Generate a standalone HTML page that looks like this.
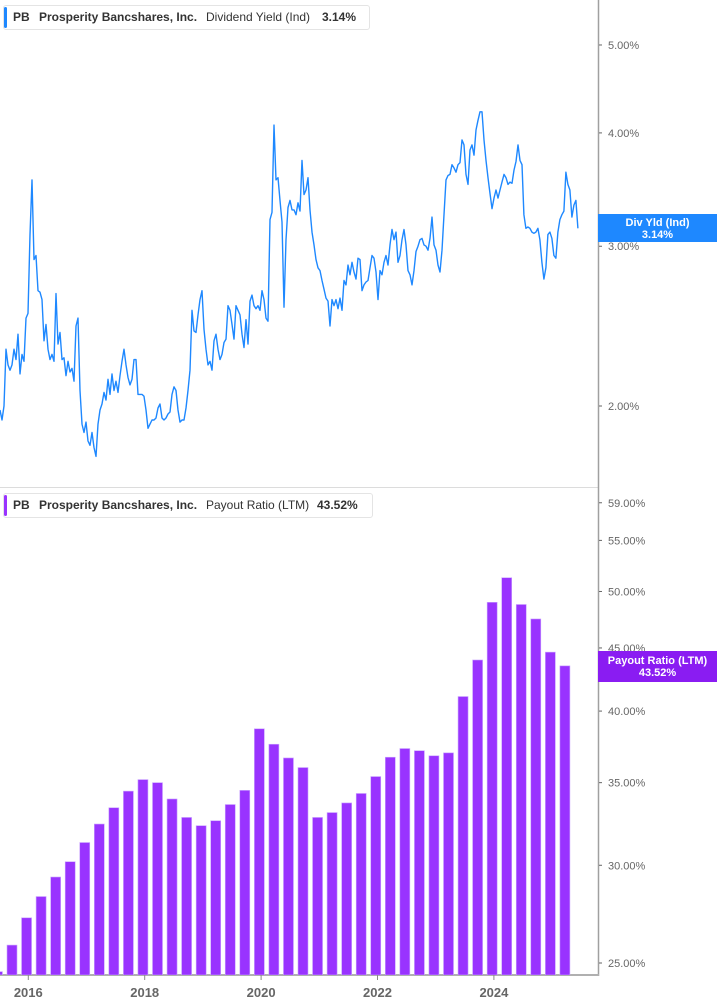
<!DOCTYPE html>
<html><head><meta charset="utf-8">
<style>
html,body{margin:0;padding:0;background:#fff;}
body{width:717px;height:1005px;overflow:hidden;position:relative;font-family:"Liberation Sans",Arial,sans-serif;}
svg{position:absolute;left:0;top:0;}
.legend{position:absolute;left:3px;height:25px;background:#fff;border:1px solid #e4e4e4;border-radius:3px;box-sizing:border-box;font-size:12px;color:#333;line-height:23px;white-space:nowrap;}
.legend .bar{position:absolute;left:0;top:1px;bottom:1px;width:3px;border-radius:2px;}
.legend span{position:absolute;top:0;}
.b{font-weight:bold;}
.badge{position:absolute;left:598px;width:119px;color:#fff;font-weight:bold;font-size:11px;text-align:center;line-height:12px;padding-top:3px;box-sizing:border-box;}
</style></head>
<body>
<svg id="chart" width="717" height="1005"></svg>

<div class="legend" style="top:5px;width:367px;">
  <div class="bar" style="background:#1e88ff"></div>
  <span class="b" style="left:9px">PB</span>
  <span class="b" style="left:35px">Prosperity Bancshares, Inc.</span>
  <span style="left:202px">Dividend Yield (Ind)</span>
  <span class="b" style="left:318px">3.14%</span>
</div>
<div class="legend" style="top:493px;width:370px;">
  <div class="bar" style="background:#9933ff"></div>
  <span class="b" style="left:9px">PB</span>
  <span class="b" style="left:35px">Prosperity Bancshares, Inc.</span>
  <span style="left:202px">Payout Ratio (LTM)</span>
  <span class="b" style="left:313px">43.52%</span>
</div>
<div class="badge" style="top:214px;height:28px;background:#1e88ff;">Div Yld (Ind)<br>3.14%</div>
<div class="badge" style="top:651px;height:31px;background:#8a1cf2;padding-top:4px;">Payout Ratio (LTM)<br>43.52%</div>

<script>
const yieldStartYear = 2015.514;
const yieldStepYears = 0.03436;
const yieldValues = [1.98,1.93,2.00,2.31,2.22,2.19,2.22,2.31,2.25,2.40,2.17,2.28,2.24,2.50,2.53,3.09,3.55,2.90,2.93,2.68,2.67,2.62,2.36,2.46,2.31,2.25,2.28,2.24,2.66,2.34,2.41,2.25,2.26,2.16,2.24,2.18,2.20,2.13,2.45,2.50,2.08,1.91,1.87,1.92,1.83,1.81,1.87,1.80,1.76,1.91,1.98,2.01,2.07,2.03,2.14,2.06,2.17,2.08,2.13,2.07,2.16,2.24,2.31,2.22,2.15,2.11,2.14,2.25,2.25,2.06,2.06,2.06,2.05,1.98,1.89,1.91,1.93,1.93,1.94,1.99,2.01,1.94,1.93,1.94,1.96,1.97,2.06,2.10,2.08,1.98,1.92,1.93,1.93,1.99,2.08,2.19,2.55,2.42,2.41,2.52,2.62,2.68,2.43,2.31,2.22,2.24,2.19,2.36,2.40,2.31,2.25,2.28,2.35,2.37,2.58,2.55,2.46,2.37,2.58,2.55,2.52,2.40,2.32,2.49,2.34,2.61,2.65,2.58,2.56,2.58,2.55,2.68,2.62,2.50,2.48,3.21,3.27,4.08,3.55,3.57,3.37,3.19,2.57,3.05,3.31,3.37,3.29,3.29,3.25,3.35,3.28,3.73,3.42,3.46,3.57,3.29,3.11,3.01,2.90,2.84,2.82,2.75,2.69,2.63,2.61,2.45,2.62,2.58,2.62,2.56,2.63,2.55,2.75,2.72,2.86,2.79,2.88,2.81,2.76,2.91,2.90,2.68,2.72,2.74,2.75,2.84,2.93,2.91,2.81,2.62,2.82,2.79,2.88,2.93,2.86,3.01,3.13,3.05,3.11,2.88,2.93,3.05,3.13,3.01,2.82,2.79,2.72,2.82,2.96,3.00,3.05,3.06,3.01,3.00,2.97,3.06,3.23,3.01,2.97,2.86,2.81,2.97,3.25,3.55,3.59,3.60,3.69,3.66,3.62,3.69,3.71,3.93,3.88,3.60,3.51,3.83,3.88,3.78,4.03,4.13,4.22,4.22,3.93,3.73,3.57,3.43,3.30,3.39,3.46,3.39,3.46,3.53,3.60,3.57,3.51,3.53,3.52,3.64,3.72,3.88,3.73,3.69,3.25,3.14,3.15,3.14,3.11,3.10,3.11,3.14,3.05,2.88,2.76,2.84,3.09,3.11,3.06,2.93,2.91,3.11,3.21,3.25,3.28,3.62,3.51,3.46,3.23,3.33,3.37,3.14];
const payoutStartYear = 2015.47;
const payoutStepYears = 0.25;
const payoutValues = [24.6,25.85,27.2,28.3,29.35,30.2,31.3,32.4,33.4,34.45,35.2,35.0,33.95,32.8,32.3,32.6,33.6,34.5,38.7,37.6,36.65,36.0,32.8,33.1,33.7,34.3,35.4,36.7,37.3,37.15,36.8,37.0,41.1,44.0,49.0,51.3,48.8,47.5,44.65,43.52];
const yieldTicks = [2,3,4,5];
const yieldTickLabels = ["2.00%","3.00%","4.00%","5.00%"];
const payoutTicks = [25,30,35,40,45,50,55,59];
const payoutTickLabels = ["25.00%","30.00%","35.00%","40.00%","45.00%","50.00%","55.00%","59.00%"];
const yearTicks = [2016,2018,2020,2022,2024];
const yearTickLabels = ["2016","2018","2020","2022","2024"];

const NS = "http://www.w3.org/2000/svg";
const svg = document.getElementById("chart");
function xOf(t){ return 28.3 + (t - 2016) * 58.2; }
function yTop(v){ return 406 - 394 * Math.log(v / 2); }
function yBot(v){ return 963 - 536 * Math.log(v / 25); }
function mk(tag, attrs){ const e = document.createElementNS(NS, tag); for (const k in attrs) e.setAttribute(k, attrs[k]); svg.appendChild(e); return e; }

// clip paths
const defs = mk("defs", {});
defs.innerHTML = '<clipPath id="ctop"><rect x="0" y="0" width="598" height="487"/></clipPath><clipPath id="cbot"><rect x="0" y="488" width="598" height="487"/></clipPath>';

// panel divider & axes
let e;
e = mk("line", {x1:0, y1:487.5, x2:598, y2:487.5, stroke:"#dcdcdc", "stroke-width":1});


e = mk("line", {x1:598.5, y1:0, x2:598.5, y2:976, stroke:"#a0a0a0", "stroke-width":1.5});


e = mk("line", {x1:0, y1:975, x2:599, y2:975, stroke:"#b0b0b0", "stroke-width":2});



// top y ticks
yieldTicks.forEach((v, i) => {
  const y = yTop(v);
  const tk = mk("line", {x1:599, y1:y, x2:602, y2:y, stroke:"#666", "stroke-width":1});
  
  
  const t = mk("text", {x:608, y:y+4, "font-size":11, fill:"#666", "font-family":"Liberation Sans, sans-serif"});
  t.textContent = yieldTickLabels[i];
  
  
});
// bottom y ticks
payoutTicks.forEach((v, i) => {
  const y = yBot(v);
  const tk = mk("line", {x1:599, y1:y, x2:602, y2:y, stroke:"#666", "stroke-width":1});
  
  
  const t = mk("text", {x:608, y:y+4, "font-size":11, fill:"#666", "font-family":"Liberation Sans, sans-serif"});
  t.textContent = payoutTickLabels[i];
  
  
});
// x ticks
yearTicks.forEach((yr, i) => {
  const x = xOf(yr);
  const tk = mk("line", {x1:x, y1:975, x2:x, y2:980, stroke:"#888", "stroke-width":1});
  
  
  const t = mk("text", {x:x, y:997, "font-size":13, "font-weight":"bold", fill:"#666", "text-anchor":"middle", "font-family":"Liberation Sans, sans-serif"});
  t.textContent = yearTickLabels[i];
  
  
});

// bars
const gBars = mk("g", {"clip-path":"url(#cbot)"});


payoutValues.forEach((v, i) => {
  const t = payoutStartYear + i * payoutStepYears;
  const cx = xOf(t);
  const top = yBot(v);
  const r = document.createElementNS(NS, "rect");
  r.setAttribute("x", cx - 5); r.setAttribute("y", top);
  r.setAttribute("width", 10); r.setAttribute("height", Math.max(0, 975 - top));
  r.setAttribute("fill", "#9933ff"); r.setAttribute("stroke", "#c9a3ff"); r.setAttribute("stroke-width", 0.6);
  
  
  gBars.appendChild(r);
});

// line
const pts = yieldValues.map((v, i) => xOf(yieldStartYear + i * yieldStepYears).toFixed(1) + "," + yTop(v).toFixed(1)).join(" ");
const line = mk("polyline", {points:pts, fill:"none", stroke:"#1e88ff", "stroke-width":1.4, "stroke-linejoin":"round", "clip-path":"url(#ctop)"});


</script>
</body></html>
